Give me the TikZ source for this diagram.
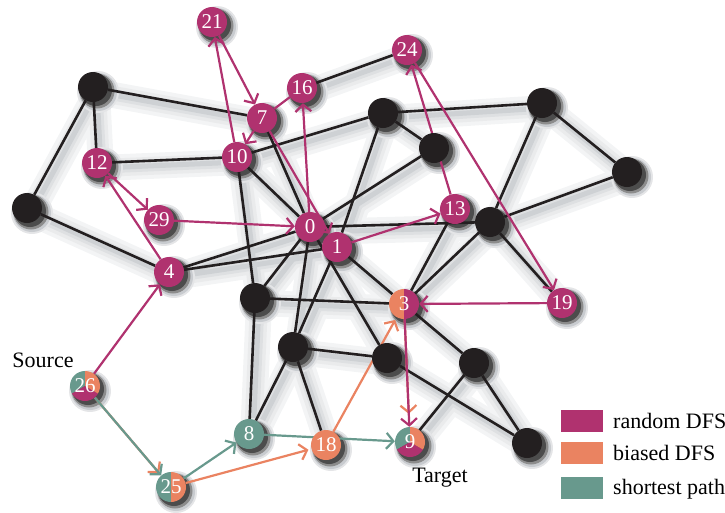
\documentclass[tikz,border=0pt]{standalone}
\usepackage{fontspec}
\setmainfont{Liberation Serif}
\usetikzlibrary{arrows.meta, positioning}

\definecolor{rdfs}{RGB}{176,50,111}
\definecolor{bdfs}{RGB}{234,131,97}
\definecolor{spath}{RGB}{104,153,141}
\definecolor{vert}{RGB}{35,31,32}
\definecolor{haze}{RGB}{60,70,85}

\pgfdeclarelayer{shadow}
\pgfdeclarelayer{edges}
\pgfsetlayers{shadow,edges,main}

\newcommand\labfont{\fontsize{22}{22}\selectfont}

\begin{document}
\begin{tikzpicture}[x=1pt, y=-1pt,
  vtx/.style={circle, minimum size=30pt, inner sep=0pt, fill=vert},
  num/.style={circle, minimum size=30pt, inner sep=0pt, text=white,
    font=\fontsize{21}{21}\selectfont},
  rnd/.style={num, fill=rdfs},
  bia/.style={num, fill=bdfs},
  sho/.style={num, fill=spath},
  pietwo/.style 2 args={num, path picture={
    \fill[#1] (path picture bounding box.center) -- ++(90:17pt)
      arc[start angle=90, end angle=270, radius=17pt] -- cycle;
    \fill[#2] (path picture bounding box.center) -- ++(-90:17pt)
      arc[start angle=-90, end angle=90, radius=17pt] -- cycle;}},
  piethree/.style={num, path picture={
    \fill[spath] (path picture bounding box.center) -- ++(90:17pt)
      arc[start angle=90, end angle=210, radius=17pt] -- cycle;
    \fill[rdfs] (path picture bounding box.center) -- ++(210:17pt)
      arc[start angle=210, end angle=330, radius=17pt] -- cycle;
    \fill[bdfs] (path picture bounding box.center) -- ++(-30:17pt)
      arc[start angle=-30, end angle=90, radius=17pt] -- cycle;}},
  edge/.style={line width=2.6pt, vert},
  walk/.style={line width=2.2pt, -{Straight Barb[length=7pt,width=16pt]}},
  halo/.style={line width=#1, line cap=round},
  key/.style={minimum width=42pt, minimum height=22pt, inner sep=0pt},
  txt/.style={font=\labfont, inner sep=0pt}]

  \useasboundingbox (0,0) rectangle (725,512);

  % plain vertices
  \node[vtx] (b1) at (93,87) {};
  \node[vtx] (b2) at (27,208) {};
  \node[vtx] (b3) at (383,113) {};
  \node[vtx] (b4) at (434,148) {};
  \node[vtx] (b5) at (542,103) {};
  \node[vtx] (b6) at (627,172) {};
  \node[vtx] (b7) at (490,222) {};
  \node[vtx] (b8) at (255,298) {};
  \node[vtx] (b9) at (293,347) {};
  \node[vtx] (b10) at (387,358) {};
  \node[vtx] (b11) at (474,363) {};
  \node[vtx] (b12) at (527,443) {};

  % visited vertices
  \node[rnd] (n21) at (212,22) {21};
  \node[rnd] (n24) at (407,50) {24};
  \node[rnd] (n16) at (302,88) {16};
  \node[rnd] (n7) at (262,118) {7};
  \node[rnd] (n10) at (237,157) {10};
  \node[rnd] (n12) at (97,163) {12};
  \node[rnd] (n29) at (159,220) {29};
  \node[rnd] (n0) at (310,227) {0};
  \node[rnd] (n1) at (337,247) {1};
  \node[rnd] (n13) at (455,209) {13};
  \node[rnd] (n4) at (169,272) {4};
  \node[rnd] (n19) at (562,303) {19};
  \node[pietwo={bdfs}{rdfs}] (n3) at (404,304) {3};
  \node[piethree] (n26) at (85,386) {26};
  \node[sho] (n8) at (249,434) {8};
  \node[bia] (n18) at (326,445) {18};
  \node[piethree] (n9) at (410,442) {9};
  \node[pietwo={spath}{bdfs}] (n25) at (171,487) {25};

  \node[txt, anchor=base] (src) at (43,367) {Source};
  \node[txt, anchor=base] (tgt) at (440,482) {Target};

  % legend
  \node[key, fill=rdfs] (krnd) at (582,421) {};
  \node[key, fill=bdfs, below=10pt of krnd] (kbia) {};
  \node[key, fill=spath, below=12pt of kbia] (ksho) {};
  \node[txt, anchor=base west] (trnd) at (613,428) {random DFS};
  \node[txt, anchor=base west] (tbia) at (613,460) {biased DFS};
  \node[txt, anchor=base west] (tsho) at (613,494) {shortest path};

  \def\plainedges{b1/b2, b1/n12, b1/n7, b2/n4, n12/n10, n10/b3, n10/n0,
    n10/b8, n7/n0, n16/n24, b3/b5, b3/b4, b3/n1, b4/n0, b5/b6, b5/b7,
    b6/b7, b7/n0, b7/n3, b7/n19, n13/n3, n0/n4, n1/n4, n0/b8, n0/b9,
    n0/b10, n1/b9, n1/n3, b8/n3, b8/n8, b9/b10, b9/n8, b9/n18, b10/b12,
    n3/b11, b11/n9, b11/b12}
  \def\randomwalk{n26/n4, n4/n12, n12/n29, n29/n0, n0/n16, n21/n7, n7/n10,
    n10/n21, n7/n1, n1/n13, n13/n24, n24/n19, n19/n3, n3/n9}
  \def\biasedwalk{n26/n25, n25/n18, n18/n3}
  \def\shortwalk{n26/n25, n25/n8, n8/n9}

  \begin{pgfonlayer}{shadow}
    \begin{scope}[transform canvas={shift={(4pt,-5pt)}}]
      \foreach \w/\c in {26pt/6, 18pt/11, 11pt/17, 5pt/25}
        \foreach \a/\b in \plainedges, \randomwalk, \biasedwalk, \shortwalk, n16/n7
          \draw[halo=\w, haze!\c] (\a.center) -- (\b.center);
    \end{scope}
    \foreach \v in {b1,b2,b3,b4,b5,b6,b7,b8,b9,b10,b11,b12,n21,n24,n16,n7,n10,
      n12,n29,n0,n1,n13,n4,n19,n3,n26,n8,n18,n9,n25} {
      \fill[haze!14] ([xshift=5pt,yshift=-5pt]\v.center) circle (21pt);
      \fill[haze!28] ([xshift=5pt,yshift=-5pt]\v.center) circle (19pt);
      \fill[black!45] ([xshift=4pt,yshift=-4pt]\v.center) circle (17.5pt);
      \fill[black!70] ([xshift=3pt,yshift=-3pt]\v.center) circle (16pt);
    }
  \end{pgfonlayer}

  \begin{pgfonlayer}{edges}
    \foreach \a/\b in \plainedges
      \draw[edge] (\a) -- (\b);
    \foreach \a/\b in \biasedwalk
      \draw[walk, bdfs, shorten >=3pt] (\a) -- (\b);
    \draw[walk, bdfs, shorten >=13pt] (n3) -- (n9);
    \foreach \a/\b in \shortwalk
      \draw[walk, spath] (\a) -- (\b);
    \foreach \a/\b in \randomwalk
      \draw[walk, rdfs] (\a) -- (\b);
    \draw[line width=2.2pt, rdfs] (n16) -- (n7);
  \end{pgfonlayer}
\end{tikzpicture}
\end{document}
